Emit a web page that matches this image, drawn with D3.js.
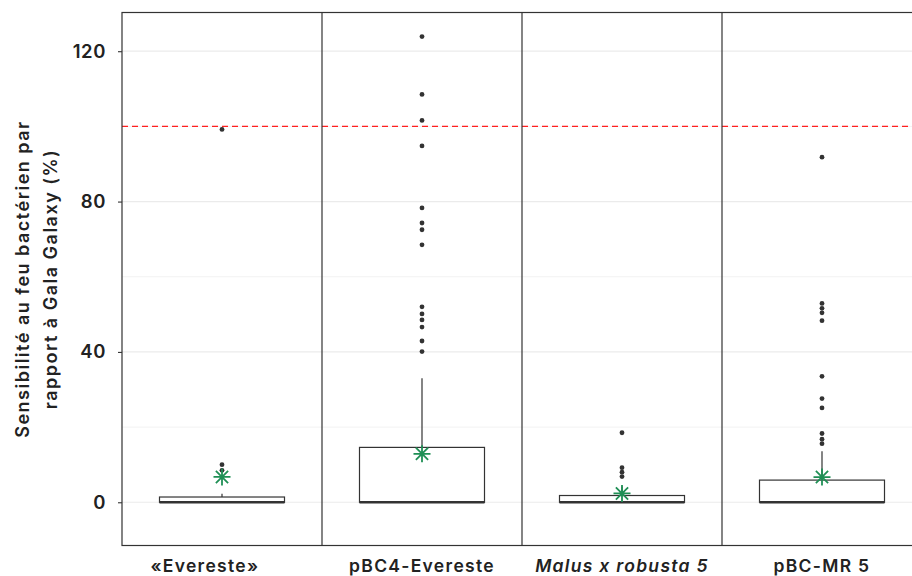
<!DOCTYPE html>
<html>
<head>
<meta charset="utf-8">
<script src="https://cdn.jsdelivr.net/npm/d3@7"></script>
<style>
  body { margin: 0; background: #fff; }
  svg { display: block; font-family: Inter, "Open Sans", sans-serif; }
</style>
</head>
<body>
<div id="chart"></div>
<script>
// groups and box statistics
var groups = ['«Evereste»\u00a0\u00a0\u00a0\u00a0\u00a0\u00a0', 'pBC4-Evereste', 'Malus x robusta 5', 'pBC-MR 5'];
var italicGroup = [false, false, true, false];
var q1 = [0, 0, 0, 0];
var medians = [0, 0, 0, 0];
var q3 = [1.4, 14.6, 1.8, 5.9];
var whiskerLow = [0, 0, 0, 0];
var whiskerHigh = [2.3, 33.0, 4.2, 13.6];
var means = [6.75, 12.9, 2.35, 6.7];
var outliers = [
    [99.2, 10.0, 8.5],
    [123.9, 108.5, 101.6, 94.8, 78.3, 74.3, 72.5, 68.5, 52.0, 50.1, 48.5, 46.6, 42.9, 40.1],
    [18.5, 9.2, 8.0, 6.85],
    [91.8, 52.9, 51.6, 50.4, 48.3, 33.5, 27.6, 25.1, 18.3, 16.8, 15.6]
];
var majorTicks = [0, 40, 80, 120];
var minorTicks = [20, 60, 100];
var refLine = 100;
var yTitle = ['Sensibilité au feu bactérien par', 'rapport à Gala Galaxy (%)'];

function drawChart() {
    var W = 912, H = 576;
    var mLeft = 122, mRight = 922, mTop = 12.5, mBottom = 545.5;

    var svg = d3.select('#chart').append('svg').attr('width', W).attr('height', H);

    var x = d3.scaleBand().domain(groups).range([mLeft, mRight]).padding(0);
    var y = d3.scaleLinear().domain([-11.5, 130.3]).range([mBottom, mTop]);
    var boxW = x.bandwidth() * 0.625;

    // grid
    svg.append('g').selectAll('line').data(minorTicks).enter().append('line')
        .attr('x1', mLeft).attr('x2', mRight)
        .attr('y1', function(d) { return y(d); }).attr('y2', function(d) { return y(d); })
        .attr('stroke', '#f2f2f2').attr('stroke-width', 1);
    svg.append('g').selectAll('line').data(majorTicks).enter().append('line')
        .attr('x1', mLeft).attr('x2', mRight)
        .attr('y1', function(d) { return y(d); }).attr('y2', function(d) { return y(d); })
        .attr('stroke', '#ebebeb').attr('stroke-width', 1.2);

    // reference line at 100 %
    svg.append('line')
        .attr('x1', mLeft).attr('x2', mRight)
        .attr('y1', y(refLine)).attr('y2', y(refLine))
        .attr('stroke', '#ff1f1f').attr('stroke-width', 1.2)
        .attr('stroke-dasharray', '6,4');

    // boxes
    var g = svg.append('g').selectAll('g').data(groups).enter().append('g')
        .attr('transform', function(d) { return 'translate(' + (x(d) + x.bandwidth() / 2) + ',0)'; });

    g.append('line')
        .attr('y1', function(d, i) { return y(q3[i]); })
        .attr('y2', function(d, i) { return y(whiskerHigh[i]); })
        .attr('stroke', '#333').attr('stroke-width', 1.2);
    g.append('line')
        .attr('y1', function(d, i) { return y(q1[i]); })
        .attr('y2', function(d, i) { return y(whiskerLow[i]); })
        .attr('stroke', '#333').attr('stroke-width', 1.2);

    g.append('rect')
        .attr('x', -boxW / 2).attr('width', boxW)
        .attr('y', function(d, i) { return y(q3[i]); })
        .attr('height', function(d, i) { return y(q1[i]) - y(q3[i]); })
        .attr('fill', '#fff').attr('stroke', '#333').attr('stroke-width', 1.2);

    g.append('line')
        .attr('x1', -boxW / 2).attr('x2', boxW / 2)
        .attr('y1', function(d, i) { return y(medians[i]); })
        .attr('y2', function(d, i) { return y(medians[i]); })
        .attr('stroke', '#333').attr('stroke-width', 2.6);

    g.each(function(d, i) {
        d3.select(this).selectAll('circle').data(outliers[i]).enter().append('circle')
            .attr('cx', 0).attr('cy', function(v) { return y(v); })
            .attr('r', 2.4).attr('fill', '#333');
    });

    // mean asterisk (+ and x)
    var s = 8.5, k = s * 0.72;
    g.append('path')
        .attr('d', 'M' + (-s) + ',0H' + s + 'M0,' + (-s) + 'V' + s +
            'M' + (-k) + ',' + (-k) + 'L' + k + ',' + k +
            'M' + (-k) + ',' + k + 'L' + k + ',' + (-k))
        .attr('transform', function(d, i) { return 'translate(0,' + y(means[i]) + ')'; })
        .attr('fill', 'none').attr('stroke', '#1f8f55').attr('stroke-width', 1.8);

    // panel borders
    svg.append('rect')
        .attr('x', mLeft).attr('y', mTop).attr('width', mRight - mLeft).attr('height', mBottom - mTop)
        .attr('fill', 'none').attr('stroke', '#333').attr('stroke-width', 1.2);
    svg.append('g').selectAll('line').data(groups.slice(1)).enter().append('line')
        .attr('x1', function(d) { return x(d); }).attr('x2', function(d) { return x(d); })
        .attr('y1', mTop).attr('y2', mBottom)
        .attr('stroke', '#333').attr('stroke-width', 1.2);

    // y axis
    var yAxis = svg.append('g').attr('transform', 'translate(' + mLeft + ',0)')
        .call(d3.axisLeft(y).tickValues(majorTicks).tickSize(4).tickPadding(12));
    yAxis.select('.domain').remove();
    yAxis.selectAll('.tick line').attr('stroke', '#333').attr('stroke-width', 1.1);
    yAxis.selectAll('.tick text')
        .attr('font-family', 'Inter, sans-serif')
        .attr('font-size', 18.5).attr('font-weight', 600).attr('fill', '#222')
        .attr('letter-spacing', 0.6);

    // x labels
    svg.append('g').selectAll('text').data(groups).enter().append('text')
        .attr('x', function(d) { return x(d) + x.bandwidth() / 2; })
        .attr('y', 572)
        .attr('text-anchor', 'middle')
        .attr('font-size', 17.5).attr('font-weight', 600).attr('fill', '#222')
        .attr('letter-spacing', 1.3)
        .attr('font-style', function(d, i) { return italicGroup[i] ? 'italic' : 'normal'; })
        .text(function(d) { return d; });

    // y title
    var cy = (mTop + mBottom) / 2;
    svg.append('text')
        .attr('transform', 'translate(29,' + cy + ') rotate(-90)')
        .attr('text-anchor', 'middle')
        .attr('font-size', 18).attr('font-weight', 600).attr('fill', '#222')
        .attr('letter-spacing', 1.5)
        .selectAll('tspan').data(yTitle).enter().append('tspan')
        .attr('x', 0).attr('dy', function(d, i) { return i === 0 ? 0 : 28; })
        .text(function(d) { return d; });
}

drawChart();
</script>
</body>
</html>
